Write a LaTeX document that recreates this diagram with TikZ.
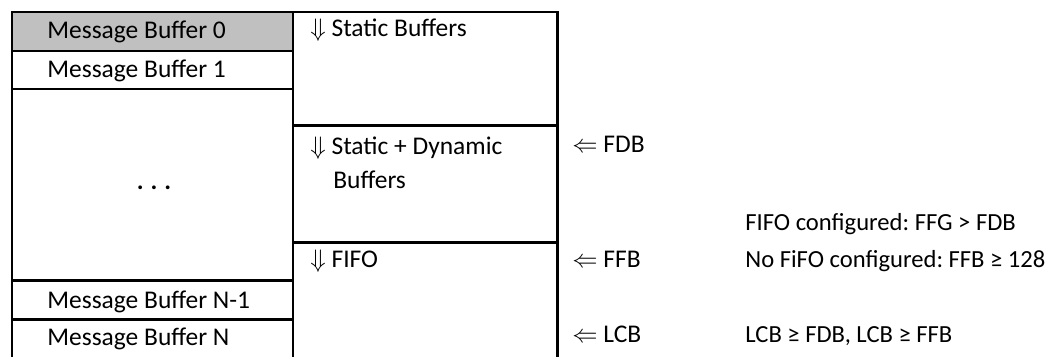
\documentclass[tikz,border=0pt]{standalone}
\usepackage{fontspec}
\setmainfont{Carlito}
\frenchspacing
\usetikzlibrary{positioning,fit}
\definecolor{bufgray}{RGB}{192,192,192}
\tikzset{
  cell/.style={draw, line width=1.7pt, inner sep=0pt, outer sep=0pt},
  lbl/.style={anchor=base west, inner sep=0pt, font=\fontsize{14.5}{17}\selectfont},
  cond/.style={lbl, font=\fontsize{14}{17}\selectfont},
}
\begin{document}
\begin{tikzpicture}[x=0.02cm, y=-0.02cm]
\useasboundingbox (0,0) rectangle (1051,356);
\clip (0,0) rectangle (1051,356);
% left column: message buffers
\node[cell, fill=bufgray, fit={(12,12) (293,51)}] (mb0) {};
\node[cell, fit={(12,51) (293,89)}] (mb1) {};
\node[cell, fit={(12,89) (293,280)}] (mbdots) {};
\node[cell, fit={(12,280) (293,319)}] (mbn1) {};
\node[cell, fit={(12,319) (293,372)}] (mbn) {};
% right column: buffer areas
\node[cell, fit={(293,12) (557,125)}] (static) {};
\node[cell, fit={(293,125) (557,242)}] (dynamic) {};
\node[cell, fit={(293,242) (557,372)}] (fifo) {};
% texts
\node[lbl] (mb0txt) at (47,38) {Message Buffer 0};
\node[lbl] (mb1txt) at (47,77) {Message Buffer 1};
\node[lbl, anchor=base] (dots) at (154,189) {\bfseries .\hspace{4pt}.\hspace{4pt}.};
\node[lbl] (mbn1txt) at (47,308) {Message Buffer N-1};
\node[lbl] (mbntxt) at (47,345) {Message Buffer N};
\node[lbl] (statictxt) at (310,36) {$\Downarrow$ Static Buffers};
\node[lbl] (dynamictxt) at (310,154) {$\Downarrow$ Static + Dynamic};
\node[lbl] (dynamictxt2) at (333,188) {Buffers};
\node[lbl] (fifotxt) at (310,267) {$\Downarrow$ FIFO};
% pointers
\node[lbl] (fdb) at (572,152) {$\Leftarrow$ FDB};
\node[lbl] (ffb) at (572,267) {$\Leftarrow$ FFB};
\node[lbl] (lcb) at (572,342) {$\Leftarrow$ LCB};
% conditions
\node[cond] (cond1) at (745,230) {FIFO configured: FFG > FDB};
\node[cond] (cond2) at (745,267) {No FiFO configured: FFB ≥ 128};
\node[cond] (cond3) at (745,342) {LCB ≥ FDB, LCB ≥ FFB};
\end{tikzpicture}
\end{document}
